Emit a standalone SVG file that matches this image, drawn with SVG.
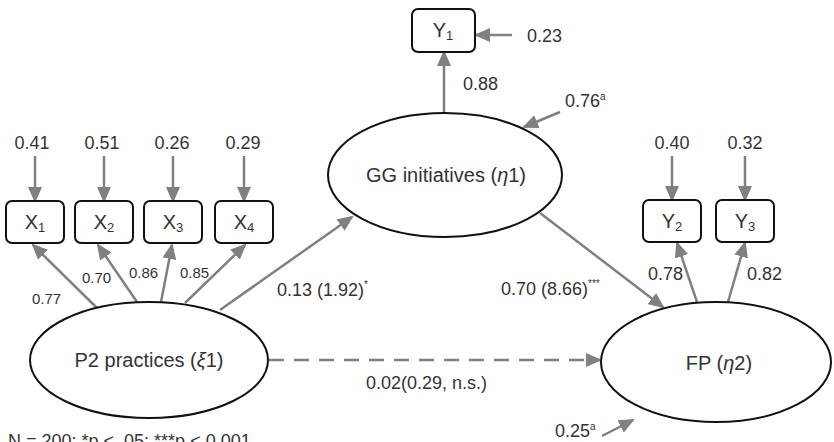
<svg xmlns="http://www.w3.org/2000/svg" width="834" height="442" viewBox="0 0 834 442">
<defs>
<marker id="ah" markerUnits="userSpaceOnUse" markerWidth="16" markerHeight="14" refX="14" refY="7" orient="auto" viewBox="0 0 16 14">
<path d="M0,0 L16,7 L0,14 z" fill="#808080"/>
</marker>
</defs>
<style>
.box{fill:#fff;stroke:#111;stroke-width:2}
.ell{fill:#fff;stroke:#111;stroke-width:2}
.c{stroke:#808080;stroke-width:2.5;fill:none;marker-end:url(#ah)}
.d{stroke-dasharray:15 10}
text{font-family:"Liberation Sans",Arial,sans-serif;fill:#333}
.t{font-size:18px}
.s{font-size:15px}
.n{font-size:20px}
.m{text-anchor:middle}
.sup{font-size:10px}
.sub{font-size:13px}
</style>
<rect width="834" height="442" fill="#fff"/>
<g id="connectors">
<line class="c" x1="35" y1="156" x2="35" y2="201"/>
<line class="c" x1="104" y1="156" x2="104" y2="201"/>
<line class="c" x1="173" y1="156" x2="173" y2="201"/>
<line class="c" x1="244" y1="156" x2="244" y2="201"/>
<line class="c" x1="672" y1="156" x2="672" y2="200"/>
<line class="c" x1="745" y1="156" x2="745" y2="200"/>
<line class="c" x1="512" y1="35" x2="476" y2="35"/>
<line class="c" x1="444" y1="113" x2="444" y2="52"/>
<line class="c" x1="560" y1="112" x2="524" y2="127"/>
<line class="c" x1="97" y1="308" x2="33" y2="245"/>
<line class="c" x1="137" y1="302" x2="98" y2="245"/>
<line class="c" x1="161" y1="302" x2="172" y2="245"/>
<line class="c" x1="185" y1="303" x2="245" y2="245"/>
<line class="c" x1="220" y1="310" x2="352" y2="217"/>
<line class="c" x1="540" y1="213" x2="663" y2="307"/>
<line class="c" x1="697" y1="302" x2="677" y2="243"/>
<line class="c" x1="728" y1="302" x2="745" y2="243"/>
<line class="c d" x1="269" y1="360" x2="600" y2="360"/>
<line class="c" x1="602" y1="436" x2="633" y2="420"/>
</g>
<g id="labels">
<text class="t m" x="32" y="149">0.41</text>
<text class="t m" x="102" y="149">0.51</text>
<text class="t m" x="172" y="149">0.26</text>
<text class="t m" x="243" y="149">0.29</text>
<text class="t m" x="672" y="149">0.40</text>
<text class="t m" x="745" y="149">0.32</text>
<text class="t" x="527" y="42">0.23</text>
<text class="t" x="463" y="90">0.88</text>
<text class="t" x="565" y="107">0.76<tspan class="sup" dy="-7">a</tspan></text>
<text class="s" x="32" y="304">0.77</text>
<text class="s" x="82" y="283">0.70</text>
<text class="s" x="129" y="278">0.86</text>
<text class="s" x="180" y="278">0.85</text>
<text class="t" x="277" y="296">0.13 (1.92)<tspan class="sup" dy="-8">*</tspan></text>
<text class="t" x="501" y="295">0.70 (8.66)<tspan class="sup" dy="-8">***</tspan></text>
<text class="t" x="648" y="280">0.78</text>
<text class="t" x="747" y="280">0.82</text>
<text class="t" x="366" y="389">0.02(0.29, n.s.)</text>
<text class="t" x="555" y="437">0.25<tspan class="sup" dy="-7">a</tspan></text>
<text class="t" x="8" y="447">N = 200; *p &lt; .05; ***p &lt; 0.001</text>
</g>
<g id="X1"><rect class="box" x="6" y="201" width="58" height="42" rx="6"/><text class="n m" x="35" y="229">X<tspan class="sub" dy="3">1</tspan></text></g>
<g id="X2"><rect class="box" x="75" y="201" width="58" height="42" rx="6"/><text class="n m" x="104" y="229">X<tspan class="sub" dy="3">2</tspan></text></g>
<g id="X3"><rect class="box" x="144" y="201" width="58" height="42" rx="6"/><text class="n m" x="173" y="229">X<tspan class="sub" dy="3">3</tspan></text></g>
<g id="X4"><rect class="box" x="215" y="201" width="58" height="42" rx="6"/><text class="n m" x="244" y="229">X<tspan class="sub" dy="3">4</tspan></text></g>
<g id="Y1"><rect class="box" x="412" y="9" width="63" height="43" rx="6"/><text class="n m" x="443" y="37">Y<tspan class="sub" dy="3">1</tspan></text></g>
<g id="Y2"><rect class="box" x="643" y="200" width="58" height="42" rx="6"/><text class="n m" x="672" y="228">Y<tspan class="sub" dy="3">2</tspan></text></g>
<g id="Y3"><rect class="box" x="716" y="200" width="58" height="42" rx="6"/><text class="n m" x="745" y="228">Y<tspan class="sub" dy="3">3</tspan></text></g>
<g id="P2"><ellipse class="ell" cx="149" cy="360" rx="119" ry="58"/><text class="n m" x="149" y="367">P2 practices (<tspan font-style="italic">ξ</tspan>1)</text></g>
<g id="GG"><ellipse class="ell" cx="445" cy="175" rx="117" ry="62"/><text class="n m" x="446" y="182">GG initiatives (<tspan font-style="italic">η</tspan>1)</text></g>
<g id="FP"><ellipse class="ell" cx="716" cy="362" rx="115" ry="60"/><text class="n m" x="719" y="370">FP (<tspan font-style="italic">η</tspan>2)</text></g>
</svg>
